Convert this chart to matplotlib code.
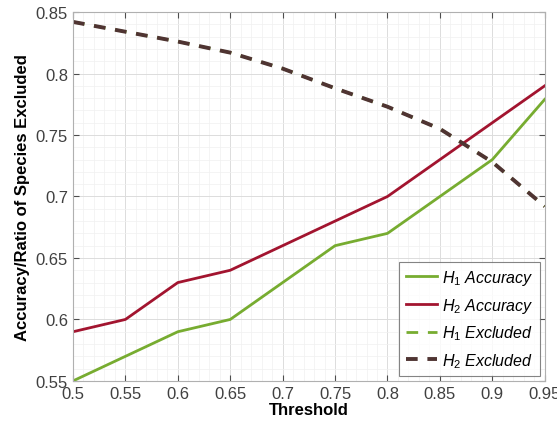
import matplotlib
matplotlib.use("Agg")
import matplotlib.pyplot as plt
from matplotlib.ticker import MultipleLocator

# ============================================================================
# Data
# ============================================================================

THRESHOLD = [0.5, 0.55, 0.6, 0.65, 0.7, 0.75, 0.8, 0.85, 0.9, 0.95]
H1_ACCURACY = [0.55, 0.57, 0.59, 0.60, 0.63, 0.66, 0.67, 0.70, 0.73, 0.779]
H2_ACCURACY = [0.59, 0.60, 0.63, 0.64, 0.66, 0.68, 0.70, 0.73, 0.76, 0.79]
H1_EXCLUDED = [0.842, 0.834, 0.826, 0.817, 0.804, 0.788, 0.773, 0.755, 0.728, 0.692]
H2_EXCLUDED = [0.842, 0.834, 0.826, 0.817, 0.804, 0.788, 0.773, 0.755, 0.728, 0.692]

GREEN = "#77ac30"
DARK_RED = "#a2142f"
EXCL_DARK = "#4f3432"

plt.rcParams["font.family"] = ["Liberation Sans", "DejaVu Sans"]
plt.rcParams["mathtext.fontset"] = "custom"
plt.rcParams["mathtext.it"] = "Liberation Sans:italic"
plt.rcParams["mathtext.rm"] = "Liberation Sans"

fig = plt.figure(figsize=(5.57, 4.35), dpi=100)
ax = fig.add_axes([0.131, 0.122, 0.847, 0.848])

ax.plot(THRESHOLD, H1_ACCURACY, color=GREEN, linewidth=2.0, label=r"$H_1$ Accuracy")
ax.plot(THRESHOLD, H2_ACCURACY, color=DARK_RED, linewidth=2.0, label=r"$H_2$ Accuracy")
# H1 excluded sits right under H2 excluded (same values), only its legend entry shows
ax.plot(THRESHOLD, H1_EXCLUDED, color=GREEN, linewidth=2.0, linestyle=(0, (4.2, 3.5)),
        label=r"$H_1$ Excluded")
ax.plot(THRESHOLD, H2_EXCLUDED, color=EXCL_DARK, linewidth=2.8, linestyle=(0, (3, 2.5)),
        label=r"$H_2$ Excluded")

ax.set_xlim(0.5, 0.95)
ax.set_ylim(0.55, 0.85)
ax.xaxis.set_major_locator(MultipleLocator(0.05))
ax.yaxis.set_major_locator(MultipleLocator(0.05))
ax.xaxis.set_minor_locator(MultipleLocator(0.01))
ax.yaxis.set_minor_locator(MultipleLocator(0.01))
ax.set_xticklabels([f"{v:g}" for v in ax.get_xticks()])
ax.set_yticklabels([f"{v:g}" for v in ax.get_yticks()])

ax.grid(True, which="major", color="#dcdcdc", linewidth=0.7)
ax.grid(True, which="minor", color="#f0f0f0", linewidth=0.5)
ax.tick_params(which="both", direction="in", top=True, right=True, colors="#4d4d4d",
               labelsize=12, labelcolor="#404040")
ax.tick_params(which="major", length=4)
ax.tick_params(which="minor", length=0)
for spine in ax.spines.values():
    spine.set_color("#b0b0b0")

ax.set_xlabel("Threshold", fontsize=12, fontweight="bold", labelpad=1)
ax.set_ylabel("Accuracy/Ratio of Species Excluded", fontsize=12, fontweight="bold", labelpad=4)

leg = ax.legend(loc="lower right", prop={"style": "italic", "size": 11.5},
                frameon=True, fancybox=False, handlelength=2.0, handletextpad=0.3,
                borderaxespad=0.3, labelspacing=0.55)
leg.get_frame().set_edgecolor("#666666")
leg.get_frame().set_linewidth(0.8)

fig.savefig("out.png", dpi=100)
